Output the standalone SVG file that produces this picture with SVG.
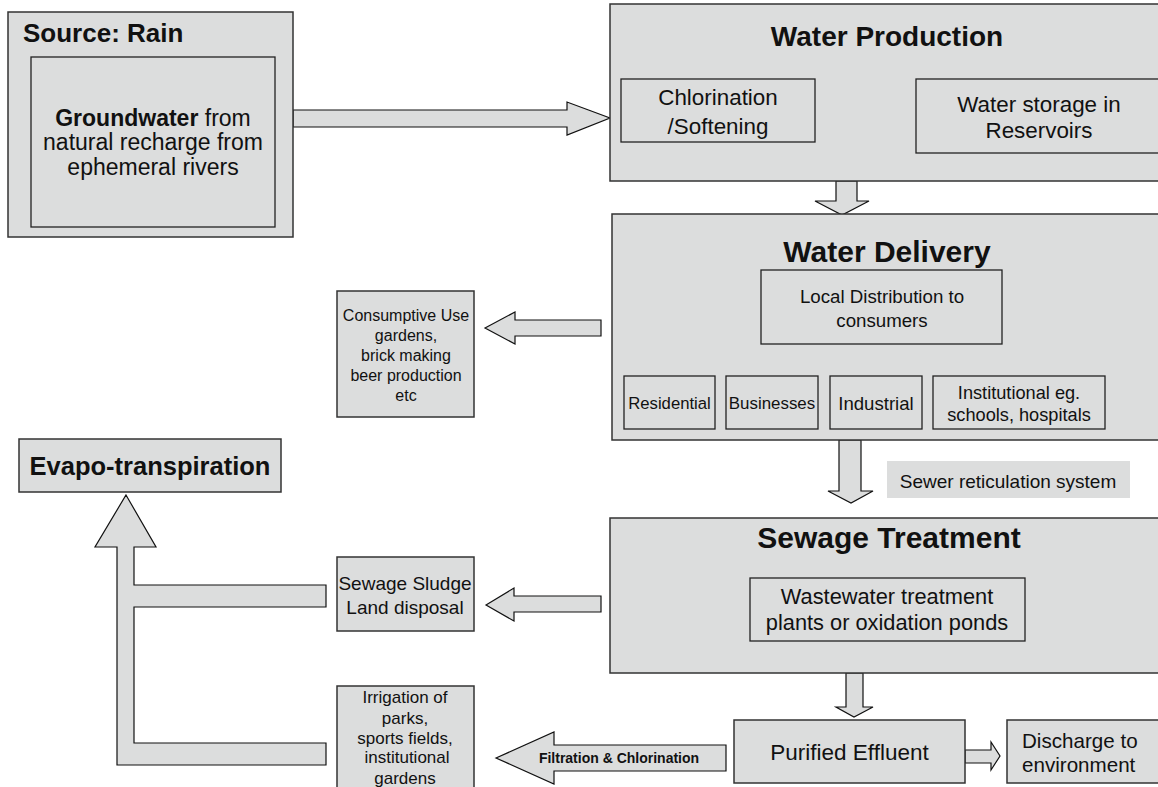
<svg xmlns="http://www.w3.org/2000/svg" width="1158" height="787" viewBox="0 0 1158 787">
<defs>
<marker id="ah" viewBox="0 0 10 10" refX="10" refY="5" markerWidth="10" markerHeight="10" markerUnits="userSpaceOnUse" orient="auto"><path d="M0,0 L10,5 L0,10 Z" fill="#000"/></marker>
</defs>
<style>
.box{fill:#dcdddd;stroke:#333;stroke-width:1.5}
.ib{fill:#dcdddd;stroke:#222;stroke-width:1.3}
.arr{fill:#dcdddd;stroke:#111;stroke-width:1.2;stroke-linejoin:miter}
.ln{fill:none;stroke:#111;stroke-width:1.4}
text{font-family:"Liberation Sans",Arial,sans-serif;fill:#111}
.t{font-weight:bold}
.c{text-anchor:middle}
</style>
<rect width="1158" height="787" fill="#fff"/>

<g id="connectors">
<polygon class="arr" points="293,110 567,110 567,102 610,118 567,135 567,127 293,127"/>
<line class="ln" x1="815" y1="113" x2="916" y2="113" marker-end="url(#ah)"/>
<polygon class="arr" points="836,181 857,181 857,201 869,201 842,215 815,201 836,201"/>
<path class="ln" d="M882,344 V360 M669,376 V360 H1019 V376 M773,360 V376 M876,360 V376"/>
<polygon class="arr" points="485,328 515,312 515,320 601,320 601,336 515,336 515,344"/>
<polygon class="arr" points="839,440 861,440 861,491 873,491 851,503 828,491 839,491"/>
<polygon class="arr" points="486,605 514,588 514,596 601,596 601,612 514,612 514,621"/>
<polygon class="arr" points="846,673 863,673 863,707 873,707 854,717 836,707 846,707"/>
<polygon class="arr" points="965,750 991,750 991,742 1000,756 991,770 991,763 965,763"/>
<polygon class="arr" points="496,758 554,732 554,745 726,745 726,771 554,771 554,784"/>
<polygon class="arr" points="126,495 156,547 134,547 134,585 326,585 326,607 134,607 134,743 326,743 326,765 117,765 117,547 95,547"/>
<text class="t c" x="619" y="763" font-size="14">Filtration &amp; Chlorination</text>
</g>

<g id="source">
<rect class="box" x="8" y="12" width="285" height="225"/>
<text class="t" x="23" y="42" font-size="26">Source: Rain</text>
<rect class="ib" x="31" y="57" width="244" height="170"/>
<text class="c" x="153" y="126" font-size="23"><tspan font-weight="bold">Groundwater</tspan> from</text>
<text class="c" x="153" y="150" font-size="23">natural recharge from</text>
<text class="c" x="153" y="175" font-size="23">ephemeral rivers</text>
</g>

<g id="water-production">
<rect class="box" x="610" y="4" width="560" height="177"/>
<text class="t c" x="887" y="46" font-size="28">Water Production</text>
</g>
<g id="chlorination">
<rect class="ib" x="621" y="79" width="194" height="63"/>
<text class="c" x="718" y="105" font-size="22.4">Chlorination</text>
<text class="c" x="718" y="134" font-size="22.4">/Softening</text>
</g>
<g id="storage">
<rect class="ib" x="916" y="79" width="250" height="74"/>
<text class="c" x="1039" y="112" font-size="22.4">Water storage in</text>
<text class="c" x="1039" y="138" font-size="22.4">Reservoirs</text>
</g>

<g id="water-delivery">
<rect class="box" x="612" y="214" width="560" height="226"/>
<text class="t c" x="887" y="262" font-size="30">Water Delivery</text>
</g>
<g id="local-distribution">
<rect class="ib" x="761" y="270" width="241" height="74"/>
<text class="c" x="882" y="303" font-size="18.7">Local Distribution to</text>
<text class="c" x="882" y="327" font-size="18.7">consumers</text>
</g>
<g id="residential">
<rect class="ib" x="624" y="376" width="91" height="53"/>
<text class="c" x="669.5" y="409" font-size="16.7">Residential</text>
</g>
<g id="businesses">
<rect class="ib" x="726" y="376" width="92" height="53"/>
<text class="c" x="772" y="409" font-size="16.9">Businesses</text>
</g>
<g id="industrial">
<rect class="ib" x="830" y="376" width="92" height="53"/>
<text class="c" x="876" y="410" font-size="18.6">Industrial</text>
</g>
<g id="institutional">
<rect class="ib" x="933" y="376" width="172" height="53"/>
<text class="c" x="1019" y="399" font-size="18.2">Institutional eg.</text>
<text class="c" x="1019" y="421" font-size="18.2">schools, hospitals</text>
</g>

<g id="consumptive">
<rect class="box" x="337" y="291" width="137" height="126"/>
<text class="c" x="406" y="321" font-size="16">Consumptive Use</text>
<text class="c" x="406" y="341" font-size="16">gardens,</text>
<text class="c" x="406" y="361" font-size="16">brick making</text>
<text class="c" x="406" y="381" font-size="16">beer production</text>
<text class="c" x="406" y="401" font-size="16">etc</text>
</g>

<g id="sewer-label">
<rect x="887" y="461" width="243" height="37" fill="#dcdddd"/>
<text class="c" x="1008" y="488" font-size="19">Sewer reticulation system</text>
</g>

<g id="sewage-treatment">
<rect class="box" x="610" y="518" width="560" height="155"/>
<text class="t c" x="889" y="548" font-size="30">Sewage Treatment</text>
</g>
<g id="wastewater">
<rect class="ib" x="750" y="578" width="275" height="63"/>
<text class="c" x="887" y="604" font-size="21.8">Wastewater treatment</text>
<text class="c" x="887" y="630" font-size="21.8">plants or oxidation ponds</text>
</g>

<g id="sludge">
<rect class="box" x="337" y="557" width="137" height="74"/>
<text class="c" x="405" y="590" font-size="19">Sewage Sludge</text>
<text class="c" x="405" y="614" font-size="19">Land disposal</text>
</g>

<g id="irrigation">
<rect class="box" x="337" y="686" width="137" height="120"/>
<text class="c" x="405" y="703" font-size="17">Irrigation of</text>
<text class="c" x="405" y="724" font-size="17">parks,</text>
<text class="c" x="405" y="744" font-size="17">sports fields,</text>
<text class="c" x="407" y="763" font-size="17">institutional</text>
<text class="c" x="405" y="784" font-size="17">gardens</text>
</g>

<g id="purified">
<rect class="box" x="734" y="720" width="231" height="63"/>
<text class="c" x="849.5" y="760" font-size="22.5">Purified Effluent</text>
</g>
<g id="discharge">
<rect class="box" x="1007" y="720" width="160" height="63"/>
<text x="1022" y="748" font-size="20.6">Discharge to</text>
<text x="1022" y="772" font-size="20.6">environment</text>
</g>

<g id="evapo">
<rect class="box" x="19" y="439" width="262" height="53"/>
<text class="t c" x="150" y="475" font-size="25.5">Evapo-transpiration</text>
</g>
</svg>
